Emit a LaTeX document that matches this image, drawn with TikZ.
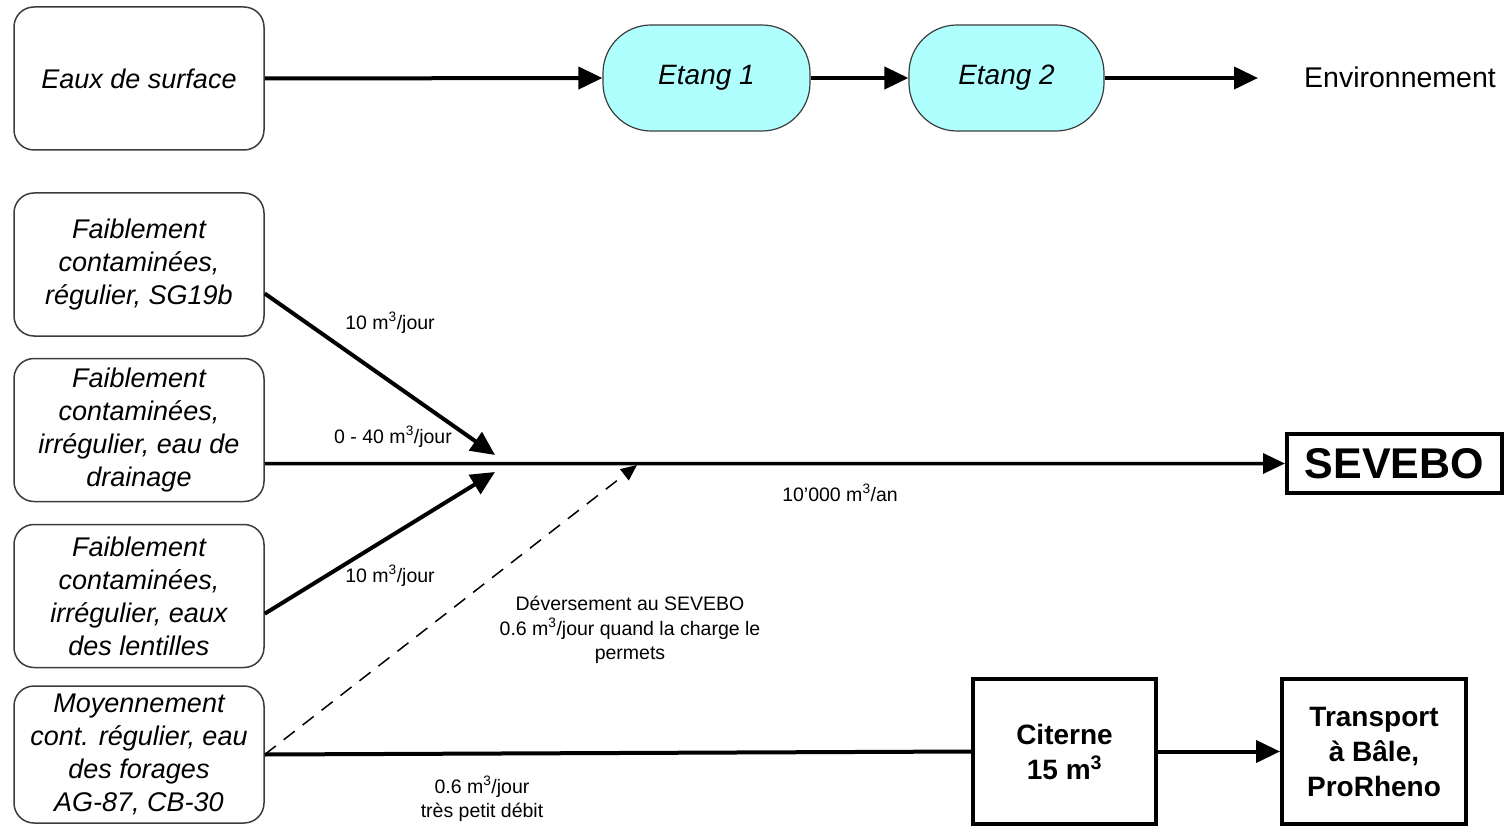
\documentclass[tikz,border=0pt]{standalone}
\usepackage{fontspec}
\setmainfont{Liberation Sans}
\usetikzlibrary{arrows.meta}
\definecolor{pondcyan}{RGB}{176,255,255}
\definecolor{edgegray}{RGB}{60,60,60}
\begin{document}
\begin{tikzpicture}[x=1pt,y=-1pt,
  src/.style={draw=edgegray, line width=1.5pt, rounded corners=20pt, minimum width=250pt, minimum height=143pt, inner sep=0pt, align=center, font=\fontsize{27}{33}\selectfont\itshape},
  pond/.style={draw=edgegray, line width=1.2pt, fill=pondcyan, rounded corners=48pt, minimum height=106pt, inner sep=0pt, font=\fontsize{28}{33}\selectfont\itshape},
  heavy/.style={draw, line width=4pt, inner sep=0pt, align=center, font=\fontsize{28}{35}\selectfont\bfseries},
  flow/.style={line width=4pt, -{Triangle[length=24pt,width=22pt]}},
  mainflow/.style={line width=3.5pt, -{Triangle[length=22pt,width=20pt]}},
  dashflow/.style={line width=1.5pt, dash pattern=on 14pt off 10pt, -{Triangle[length=16pt,width=14pt]}},
  lbl/.style={font=\fontsize{19.5}{24.5}\selectfont, align=center, inner sep=0pt},
]
\useasboundingbox (0,0) rectangle (1507,826);

% top row
\node[src] (eaux) at (139,78.5) {Eaux de surface};
\node[pond, minimum width=207pt] (et1) at (706.5,78) {Etang 1};
\node[pond, minimum width=195pt] (et2) at (1006.5,78) {Etang 2};
\node[font=\fontsize{28.5}{33}\selectfont, inner sep=0pt] (env) at (1400,77) {Environnement};
\coordinate (envin) at (1258,78);

\draw[flow] (eaux.east) -- (et1.west);
\draw[flow] (et1.east) -- (et2.west);
\draw[flow] (et2.east) -- (envin);

% sources
\node[src] (A) at (139,264.5) {Faiblement\\contaminées,\\régulier, SG19b};
\node[src] (B) at (139,430) {Faiblement\\contaminées,\\irrégulier, eau de\\drainage};
\node[src] (C) at (139,596) {Faiblement\\contaminées,\\irrégulier, eaux\\des lentilles};
\node[src, minimum height=137pt] (D) at (139,754.5) {Moyennement\\cont. régulier, eau\\des forages\\AG-87, CB-30};

% targets
\node[heavy, minimum width=215pt, minimum height=59pt, font=\fontsize{43}{48}\selectfont\bfseries] (sev) at (1394.5,463.5) {SEVEBO};
\node[heavy, minimum width=183pt, minimum height=145pt] (cit) at (1064.5,751.5) {Citerne\\15 m\textsuperscript{3}};
\node[heavy, minimum width=184pt, minimum height=145pt] (trans) at (1374,751.5) {Transport\\à Bâle,\\ProRheno};

% junction points
\coordinate (j1) at (495,455);
\coordinate (j2) at (495,472);
\coordinate (j3) at (637,465);

\draw[flow] (A.-13) -- (j1);
\draw[flow] (C.-8) -- (j2);
\draw[mainflow] (B.-15) -- (sev.west);
\draw[dashflow] (D.east) -- (j3);
\draw[line width=4pt] (D.east) -- (cit.west);
\draw[flow] (cit.east) -- (trans.west);

% labels
\node[lbl] (l1) at (390,323) {10 m\textsuperscript{3}/jour};
\node[lbl] (l2) at (393,437) {0 - 40 m\textsuperscript{3}/jour};
\node[lbl] (l3) at (390,576) {10 m\textsuperscript{3}/jour};
\node[lbl] (l4) at (840,493) {10'000 m\textsuperscript{3}/an};
\node[lbl] (l5) at (630,630) {Déversement au SEVEBO\\0.6 m\textsuperscript{3}/jour quand la charge le\\permets};
\node[lbl] (l6) at (482,799) {0.6 m\textsuperscript{3}/jour\\très petit débit};
\end{tikzpicture}
\end{document}
